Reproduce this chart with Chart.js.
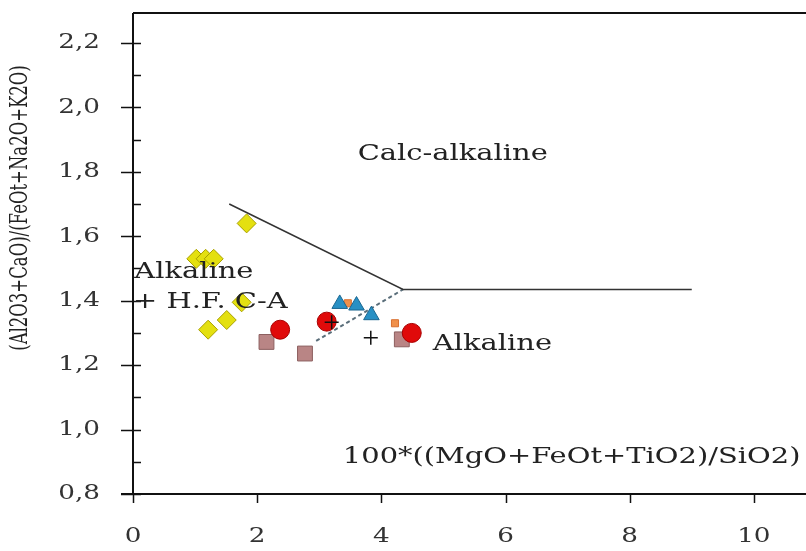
<!DOCTYPE html>
<html>
<head>
<meta charset="utf-8">
<script src="https://cdn.jsdelivr.net/npm/chart.js@4.4.1/dist/chart.umd.min.js"></script>
<style>
  html, body { margin: 0; padding: 0; background: #fff; }
  #wrap { width: 806px; height: 551px; }
</style>
</head>
<body>
<div id="wrap"><canvas id="myChart" width="806" height="551"></canvas></div>
<script>
// samples
var diamondX = [1.83, 1.02, 1.17, 1.30, 1.75, 1.51, 1.21];
var diamondY = [1.64, 1.53, 1.53, 1.53, 1.395, 1.34, 1.31];
var circleX = [2.37, 3.12, 4.49];
var circleY = [1.31, 1.335, 1.30];
var squareX = [2.15, 2.77, 4.33];
var squareY = [1.272, 1.236, 1.28];
var triX = [3.33, 3.60, 3.84];
var triY = [1.39, 1.385, 1.355];
var orangeX = [3.46, 4.22];
var orangeY = [1.392, 1.33];
var crossX = [3.83, 3.20];
var crossY = [1.285, 1.333];

// field boundaries
var lineX = [1.55, 4.35, 9.0];
var lineY = [1.70, 1.435, 1.435];
var dashX = [2.95, 4.35];
var dashY = [1.275, 1.435];

var xTicks = [0, 2, 4, 6, 8, 10];
var yTicks = [0.8, 1.0, 1.2, 1.4, 1.6, 1.8, 2.0, 2.2];

var fieldLabels = [
  { text: "Calc-alkaline", x: 3.62, y: 1.837 },
  { text: "Alkaline", x: 0.02, y: 1.472 },
  { text: "+ H.F. C-A", x: 0.0, y: 1.378 },
  { text: "Alkaline", x: 4.83, y: 1.246 },
  { text: "100*((MgO+FeOt+TiO2)/SiO2)", x: 3.38, y: 0.896 }
];
var yTitle = "(Al2O3+CaO)/(FeOt+Na2O+K2O)";

function pts(xs, ys) {
  return xs.map(function (x, i) { return { x: x, y: ys[i] }; });
}

var FONT = "'DejaVu Serif', 'Liberation Serif', serif";
var SX = 1.28;

function stretchText(ctx, txt, x, y, size, align) {
  ctx.save();
  ctx.font = size + "px " + FONT;
  var w = ctx.measureText(txt).width * SX;
  var left = x;
  if (align === "right") left = x - w;
  if (align === "center") left = x - w / 2;
  ctx.translate(left, y);
  ctx.scale(SX, 1);
  ctx.textAlign = "left";
  ctx.fillText(txt, 0, 0);
  ctx.restore();
}

var frame = {
  id: "frame",
  beforeDatasetsDraw: function (chart) {
    var ctx = chart.ctx, a = chart.chartArea;
    var xs = chart.scales.x, ys = chart.scales.y;
    ctx.save();
    ctx.strokeStyle = "#111";
    ctx.lineWidth = 2;
    ctx.beginPath();
    ctx.moveTo(a.left, a.top); ctx.lineTo(chart.width, a.top);
    ctx.moveTo(a.left, a.top); ctx.lineTo(a.left, a.bottom);
    ctx.moveTo(a.left - 12, a.bottom); ctx.lineTo(chart.width, a.bottom);
    ctx.stroke();
    ctx.lineWidth = 1.5;
    ctx.beginPath();
    ys.ticks.forEach(function (t) {
      var p = Math.round(ys.getPixelForValue(t.value)) + 0.5;
      var major = Math.round(t.value * 10) % 2 === 0;
      ctx.moveTo(major ? a.left - 12 : a.left, p);
      ctx.lineTo(a.left + 8, p);
    });
    xTicks.forEach(function (v) {
      var p = Math.round(xs.getPixelForValue(v)) + 0.5;
      ctx.moveTo(p, a.bottom);
      ctx.lineTo(p, a.bottom + 9);
    });
    ctx.stroke();
    ctx.fillStyle = "#333";
    ctx.textBaseline = "middle";
    yTicks.forEach(function (v) {
      stretchText(ctx, v.toFixed(1).replace(".", ","), 100, ys.getPixelForValue(v), 20.5, "right");
    });
    xTicks.forEach(function (v) {
      stretchText(ctx, String(v), xs.getPixelForValue(v), 537, 20.5, "center");
    });
    // y title: stretched across the text direction
    ctx.save();
    ctx.translate(21, 208);
    ctx.rotate(-Math.PI / 2);
    ctx.scale(1, 1.45);
    ctx.fillStyle = "#222";
    ctx.font = "16.5px " + FONT;
    ctx.textAlign = "center";
    ctx.textBaseline = "middle";
    ctx.fillText(yTitle, 0, 0);
    ctx.restore();
    ctx.restore();
  },
  afterDatasetsDraw: function (chart) {
    var ctx = chart.ctx;
    var xs = chart.scales.x, ys = chart.scales.y;
    ctx.save();
    ctx.fillStyle = "#222";
    ctx.textBaseline = "alphabetic";
    fieldLabels.forEach(function (l) {
      stretchText(ctx, l.text, xs.getPixelForValue(l.x), ys.getPixelForValue(l.y), 22.6, "left");
    });
    ctx.restore();
  }
};

var c = new Chart("myChart", {
  type: "scatter",
  data: {
    datasets: [
      { label: "cross", data: pts(crossX, crossY), pointStyle: "cross", pointRadius: 7,
        borderColor: "#111", borderWidth: 1.5, order: 0 },
      { label: "circle", data: pts(circleX, circleY), pointStyle: "circle", pointRadius: 9.5,
        backgroundColor: "#e00a0a", borderColor: "#a80000", borderWidth: 1, order: 1 },
      { label: "square", data: pts(squareX, squareY), pointStyle: "rect", pointRadius: 10.5,
        backgroundColor: "#b98585", borderColor: "#8c5f5f", borderWidth: 1, order: 2 },
      { label: "triangle", data: pts(triX, triY), pointStyle: "triangle", pointRadius: 9,
        backgroundColor: "#2890c4", borderColor: "#1a6690", borderWidth: 1, order: 3 },
      { label: "orange", data: pts(orangeX, orangeY), pointStyle: "rect", pointRadius: 5,
        backgroundColor: "#f0904a", borderColor: "#d87030", borderWidth: 1, order: 4 },
      { label: "diamond", data: pts(diamondX, diamondY), pointStyle: "rectRot", pointRadius: 9.5,
        backgroundColor: "#e4e010", borderColor: "#a8a000", borderWidth: 1, order: 5 },
      { label: "line", type: "line", data: pts(lineX, lineY), showLine: true, pointRadius: 0,
        borderColor: "#333", borderWidth: 1.5, fill: false, order: 9 },
      { label: "dash", type: "line", data: pts(dashX, dashY), showLine: true, pointRadius: 0,
        borderColor: "#5a6e7a", borderWidth: 2, borderDash: [4, 3], fill: false, order: 9 }
    ]
  },
  options: {
    responsive: false,
    animation: false,
    devicePixelRatio: 1,
    layout: { autoPadding: false, padding: { top: 13, left: 0, right: 0, bottom: 0 } },
    plugins: { legend: { display: false }, tooltip: { enabled: false } },
    scales: {
      x: {
        type: "linear", min: 0, max: 10.84,
        grid: { display: false }, border: { display: false },
        ticks: { display: false, stepSize: 2, includeBounds: false },
        afterFit: function (s) { s.height = 57; }
      },
      y: {
        type: "linear", min: 0.8, max: 2.293,
        grid: { display: false }, border: { display: false },
        ticks: { display: false, stepSize: 0.1, includeBounds: false },
        afterFit: function (s) { s.width = 133; }
      }
    }
  },
  plugins: [frame]
});
</script>
</body>
</html>
